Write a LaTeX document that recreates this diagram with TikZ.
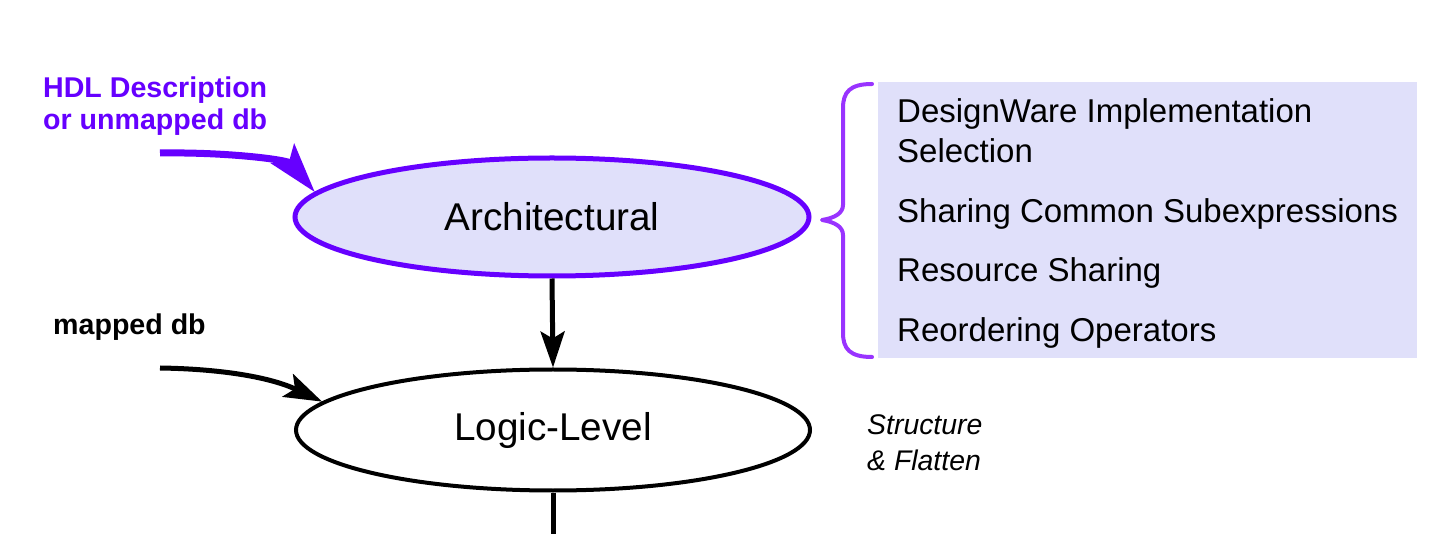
\documentclass[tikz,border=0pt]{standalone}
\usepackage{fontspec}
\setmainfont{Liberation Sans}
\usetikzlibrary{shapes.geometric,arrows.meta}
\definecolor{vio}{HTML}{6600FF}
\definecolor{lav}{HTML}{E0E0FA}
\definecolor{brc}{HTML}{9933FF}
\begin{document}
\begin{tikzpicture}[x=1pt,y=-1pt,
  lbl/.style={anchor=base west, inner sep=0pt},
  itemtxt/.style={lbl, font=\fontsize{33}{40}\selectfont},
  inlbl/.style={lbl, font=\bfseries\fontsize{28.6}{34}\selectfont},
  sidetxt/.style={lbl, font=\itshape\fontsize{28.4}{34}\selectfont},
  stage/.style={ellipse, inner sep=0pt, minimum width=514, font=\fontsize{38.7}{46}\selectfont},
  flow/.style={line width=5, -{Stealth[length=36, width=24, inset=7]}}
]
\useasboundingbox (0,0) rectangle (1430,534);
\fill[white] (0,0) rectangle (1430,534);

% right box with brace
\node[fill=lav, inner sep=0pt, minimum width=539, minimum height=276, anchor=north west] (box) at (878,82) {};
\draw[brc, line width=4, line cap=round, line join=round]
  (872,84) .. controls (850,84) and (843,92) .. (843,108)
  -- (843,205) .. controls (843,213) and (835,218) .. (822,220)
  .. controls (835,222) and (843,227) .. (843,235)
  -- (843,333) .. controls (843,349) and (850,357) .. (872,357);
\node[itemtxt] (t1) at (897,123) {DesignWare Implementation};
\node[itemtxt] (t2) at (897,163) {Selection};
\node[itemtxt] (t3) at (897,223) {Sharing Common Subexpressions};
\node[itemtxt] (t4) at (897,282) {Resource Sharing};
\node[itemtxt] (t5) at (897,342) {Reordering Operators};

% stages
\node[stage, draw=vio, line width=5, fill=lav, minimum height=118] (arch) at (552,217) {Architectural};
\node[stage, draw=black, line width=4, fill=white, minimum height=121] (logic) at (553,430) {Logic-Level};

\draw[flow] (arch.south) -- (logic.north);
\coordinate (bot) at (553,534);
\draw[line width=5] (logic.south) -- (bot);

% inputs
\node[inlbl, text=vio] (hdl1) at (43,98) {HDL Description};
\node[inlbl, text=vio] (hdl2) at (43,130) {or unmapped db};
\coordinate (hdlstart) at (160,153);
\draw[vio, line width=7, -{Stealth[length=50, width=30, inset=10]}]
  (hdlstart) .. controls (230,152) and (288,160) .. (arch.174);

\node[inlbl, text=black] (mdb) at (53,335) {mapped db};
\coordinate (mstart) at (160,368);
\draw[line width=5, -{Stealth[length=38, width=25, inset=8]}]
  (mstart) .. controls (225,369) and (272,378) .. (logic.173);

\node[sidetxt] (s1) at (867,435) {Structure};
\node[sidetxt] (s2) at (867,471) {\& Flatten};
\end{tikzpicture}
\end{document}
